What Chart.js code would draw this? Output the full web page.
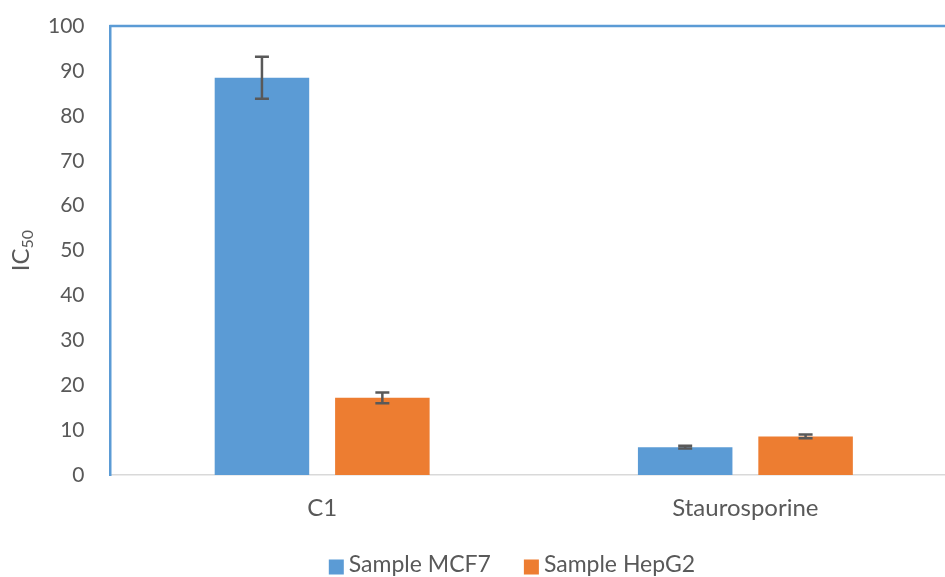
<!DOCTYPE html>
<html>
<head>
<meta charset="utf-8">
<script src="https://cdn.jsdelivr.net/npm/chart.js@4.4.1/dist/chart.umd.min.js"></script>
<style>
html,body{margin:0;padding:0;background:#fff;overflow:hidden;width:945px;height:577px;}
canvas{display:block;}
</style>
</head>
<body>
<canvas id="c" width="1052" height="577"></canvas>
<script>
const categories = ["C1", "Staurosporine"];
const seriesNames = ["Sample MCF7", "Sample HepG2"];
const mcf7Values = [88.5, 6.2];
const hepg2Values = [17.2, 8.6];
const mcf7Errors = [4.7, 0.3];
const hepg2Errors = [1.2, 0.4];
const yTicks = [0, 10, 20, 30, 40, 50, 60, 70, 80, 90, 100];

const textColor = '#595959';
const fontFamily = 'Lato, "Open Sans", sans-serif';

const errorBarPlugin = {
  id: 'errorBars',
  afterDatasetsDraw(chart) {
    const ctx = chart.ctx;
    const y = chart.scales.y;
    chart.data.datasets.forEach((ds, di) => {
      const meta = chart.getDatasetMeta(di);
      meta.data.forEach((bar, i) => {
        const v = ds.data[i], e = ds.errors[i];
        const yTop = y.getPixelForValue(v + e);
        const yBot = y.getPixelForValue(v - e);
        const x = bar.x;
        ctx.save();
        ctx.strokeStyle = '#595959';
        ctx.lineWidth = 2.5;
        ctx.beginPath();
        ctx.moveTo(x, yTop); ctx.lineTo(x, yBot);
        ctx.moveTo(x - 7, yTop); ctx.lineTo(x + 7, yTop);
        ctx.moveTo(x - 7, yBot); ctx.lineTo(x + 7, yBot);
        ctx.stroke();
        ctx.restore();
      });
    });
  }
};

const frameTitleLegendPlugin = {
  id: 'frameTitleLegend',
  afterDraw(chart) {
    const ctx = chart.ctx;
    const a = chart.chartArea;
    ctx.save();
    // top frame line
    ctx.strokeStyle = '#5B9BD5';
    ctx.lineWidth = 2.5;
    ctx.beginPath();
    ctx.moveTo(a.left - 1, a.top);
    ctx.lineTo(a.right, a.top);
    ctx.stroke();
    ctx.restore();

    // y-axis title IC50 with subscript
    ctx.save();
    const cy = (a.top + a.bottom) / 2;
    ctx.translate(21, cy);
    ctx.rotate(-Math.PI / 2);
    ctx.fillStyle = textColor;
    ctx.textBaseline = 'middle';
    ctx.textAlign = 'left';
    ctx.font = '24px ' + fontFamily;
    const w1 = ctx.measureText('IC').width;
    ctx.font = '16px ' + fontFamily;
    const w2 = ctx.measureText('50').width;
    const start = -(w1 + w2) / 2;
    ctx.font = '24px ' + fontFamily;
    ctx.fillText('IC', start, 0);
    ctx.font = '16px ' + fontFamily;
    ctx.fillText('50', start + w1, 7);
    ctx.restore();

    // legend
    ctx.save();
    ctx.font = '23px ' + fontFamily;
    ctx.textBaseline = 'middle';
    ctx.textAlign = 'left';
    const box = 15, boxGap = 5, itemGap = 33;
    const items = chart.data.datasets.map(ds => ({ text: ds.label, color: ds.backgroundColor, w: ctx.measureText(ds.label).width }));
    let total = 0;
    items.forEach((it, i) => { total += box + boxGap + it.w + (i ? itemGap : 0); });
    const centerX = 512, centerY = 565;
    let x = centerX - total / 2;
    items.forEach(it => {
      ctx.fillStyle = it.color;
      ctx.fillRect(x, centerY - box / 2 + 2, box, box);
      ctx.fillStyle = textColor;
      ctx.fillText(it.text, x + box + boxGap, centerY);
      x += box + boxGap + it.w + itemGap;
    });
    ctx.restore();
  }
};

new Chart(document.getElementById('c'), {
  type: 'bar',
  data: {
    labels: categories,
    datasets: [
      { label: seriesNames[0], data: mcf7Values, errors: mcf7Errors, backgroundColor: '#5B9BD5', categoryPercentage: 0.569, barPercentage: 0.785 },
      { label: seriesNames[1], data: hepg2Values, errors: hepg2Errors, backgroundColor: '#ED7D31', categoryPercentage: 0.569, barPercentage: 0.785 }
    ]
  },
  options: {
    responsive: false,
    devicePixelRatio: 1,
    animation: false,
    layout: { padding: { left: 22, right: 95, top: 0, bottom: 36 } },
    scales: {
      x: {
        grid: { display: false, drawTicks: false },
        border: { display: true, color: '#D9D9D9', width: 1.5 },
        ticks: { color: textColor, font: { family: fontFamily, size: 24, lineHeight: 1.0 }, padding: 21 }
      },
      y: {
        min: 0, max: 100,
        afterBuildTicks(scale) { scale.ticks = yTicks.map(v => ({ value: v })); },
        grid: { display: false, drawTicks: false },
        border: { display: true, color: '#5B9BD5', width: 2.5 },
        ticks: { color: textColor, font: { family: fontFamily, size: 21, lineHeight: 0.01 }, padding: 26 }
      }
    },
    plugins: {
      legend: { display: false },
      tooltip: { enabled: false }
    }
  },
  plugins: [errorBarPlugin, frameTitleLegendPlugin]
});
</script>
</body>
</html>
